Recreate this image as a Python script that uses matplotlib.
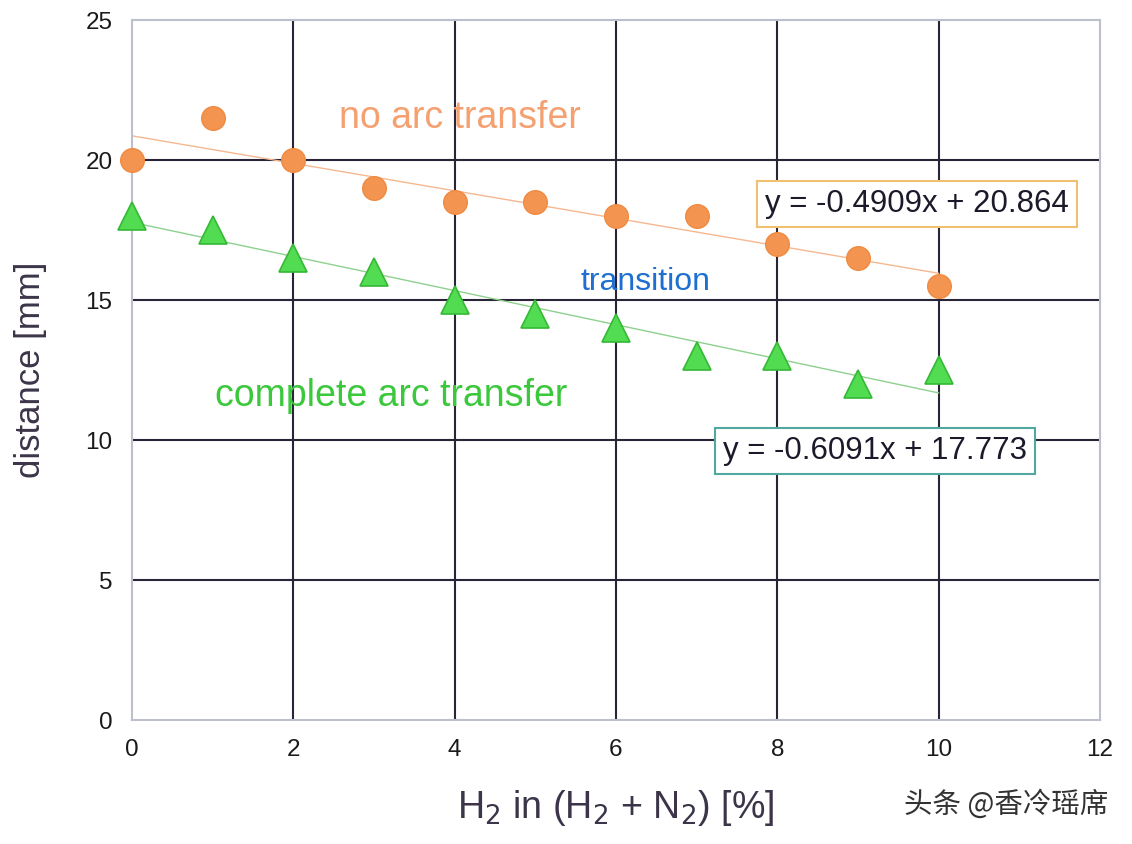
import numpy as np
import matplotlib
matplotlib.use("Agg")
import matplotlib.pyplot as plt

plt.rcParams['font.family'] = ['Liberation Sans', 'DejaVu Sans']

# data
h2_pct = [0, 1, 2, 3, 4, 5, 6, 7, 8, 9, 10]
no_arc = [20, 21.5, 20, 19, 18.5, 18.5, 18, 18, 17, 16.5, 15.5]
complete_arc = [18, 17.5, 16.5, 16, 15, 14.5, 14, 13, 13, 12, 12.5]
x_ticks = [0, 2, 4, 6, 8, 10, 12]
y_ticks = [0, 5, 10, 15, 20, 25]

fig = plt.figure(figsize=(11.32, 8.44), dpi=100)
ax = fig.add_axes([0.1166, 0.1469, 0.8551, 0.8294])

x = np.array(h2_pct)
# linear trend lines (fit from the points)
k1, b1 = np.polyfit(x, no_arc, 1)
k2, b2 = np.polyfit(x, complete_arc, 1)
ax.plot(x, k1 * x + b1, color='#f6b890', lw=1.0, zorder=2)
ax.plot(x, k2 * x + b2, color='#8fd08f', lw=1.0, zorder=2)

ax.plot(x, no_arc, 'o', ms=17, color='#f39550', mec='#f08a40', mew=1, zorder=4, clip_on=False)
ax.plot(x, complete_arc, '^', ms=20, color='#52dc52', mec='#35b835', mew=1.2, zorder=4, clip_on=False)

ax.set_xlim(0, 12)
ax.set_ylim(0, 25)
ax.set_xticks(x_ticks)
ax.set_yticks(y_ticks)
ax.tick_params(length=0, labelsize=17.5, colors='#1a1a1a')
ax.tick_params(axis='x', pad=14)
ax.tick_params(axis='y', pad=14)
# grid only on inner ticks, frame is light gray
for xv in x_ticks[1:-1]:
    ax.axvline(xv, color='#2a2438', lw=1.5, zorder=1)
for yv in y_ticks[1:-1]:
    ax.axhline(yv, color='#2a2438', lw=1.5, zorder=1)
for s in ax.spines.values():
    s.set_color('#bcc0cc')
    s.set_linewidth(1.5)

ax.set_xlabel(r'H$_2$ in (H$_2$ + N$_2$) [%]', fontsize=27, color='#3c3448')
ax.xaxis.set_label_coords(0.5, -0.097)
ax.set_ylabel('distance [mm]', fontsize=25, color='#3c3448')
ax.yaxis.set_label_coords(-0.088, 0.5)

ax.text(4.07, 21.5, 'no arc transfer', color='#f4a070', fontsize=27, ha='center', va='center')
ax.text(6.37, 15.64, 'transition', color='#1f6fd0', fontsize=23, ha='center', va='center')
ax.text(3.21, 11.57, 'complete arc transfer', color='#3cc83c', fontsize=27, ha='center', va='center')

ax.text(9.73, 18.43, 'y = %.4fx + %.3f' % (k1, b1), fontsize=22.5, color='#1a1a2a',
        ha='center', va='center', zorder=5,
        bbox=dict(boxstyle='square,pad=0.25', fc='white', ec='#f0c070', lw=1.5))
ax.text(9.21, 9.6, 'y = %.4fx + %.3f' % (k2, b2), fontsize=22.5, color='#1a1a2a',
        ha='center', va='center', zorder=5,
        bbox=dict(boxstyle='square,pad=0.25', fc='white', ec='#50a8a0', lw=1.5))

fig.text(0.889, 0.047, '头条 @香冷瑶席', fontsize=20.5, color='#333333', ha='center', va='center',
         family=['Noto Sans CJK SC', 'DejaVu Sans'])

fig.savefig('out.png', dpi=100)
